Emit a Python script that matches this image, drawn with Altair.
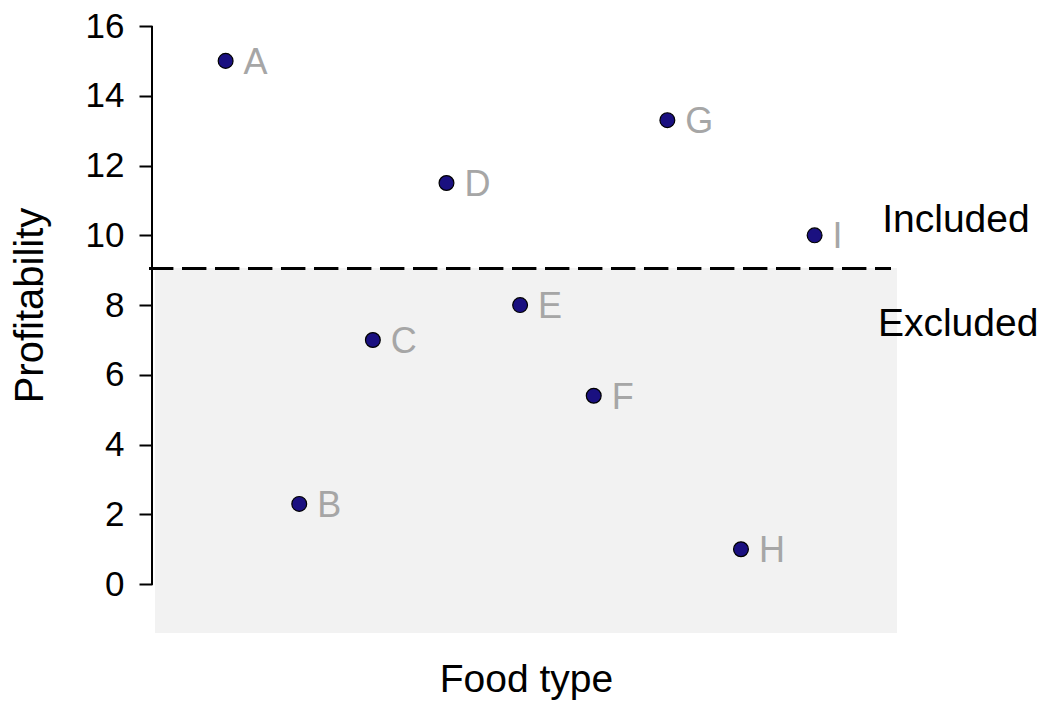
import altair as alt
import pandas as pd

# Data
foods = ["A", "B", "C", "D", "E", "F", "G", "H", "I"]
food_pos = [1, 2, 3, 4, 5, 6, 7, 8, 9]
profit = [15.0, 2.3, 7.0, 11.5, 8.0, 5.4, 13.3, 1.0, 10.0]
threshold = [9.05]
region_labels = ["Included", "Excluded"]
region_y = [10.45, 7.45]
region_x = [10.92, 10.95]
y_ticks = [0, 2, 4, 6, 8, 10, 12, 14, 16]

FONT = "Liberation Sans"
X_DOM = [0, 10.16]
Y_DOM = [-1.4, 16]

df = pd.DataFrame({"food": foods, "pos": food_pos, "profit": profit})
reg = pd.DataFrame({"label": region_labels, "y": region_y, "x": region_x})

xscale = alt.Scale(domain=X_DOM, nice=False, zero=False)
yscale = alt.Scale(domain=Y_DOM, nice=False, zero=False)

base = alt.Chart(df)

shade = base.mark_rect(color="#f2f2f2").encode(
    x=alt.datum(0.04, type="quantitative", scale=xscale),
    x2=alt.datum(10.12),
    y=alt.datum(Y_DOM[0], type="quantitative", scale=yscale),
    y2=alt.datum(threshold[0]),
)

dash = base.mark_rule(color="black", strokeWidth=3, strokeDash=[24, 9]).encode(
    x=alt.datum(-0.04, type="quantitative"),
    x2=alt.datum(10.03),
    y=alt.datum(threshold[0], type="quantitative"),
)

axis_line = base.mark_rule(color="black", strokeWidth=2).encode(
    x=alt.datum(0, type="quantitative"),
    y=alt.datum(0, type="quantitative"),
    y2=alt.datum(16),
)

points = base.mark_point(
    filled=True, shape="circle", size=220, fill="#1a1080", stroke="black",
    strokeWidth=1.2, opacity=1
).encode(
    x=alt.X("pos:Q", scale=xscale,
            axis=alt.Axis(labels=False, ticks=False, domain=False, grid=False,
                          title="Food type", titleFont=FONT, titleFontSize=39,
                          titleFontWeight="normal", titleColor="black",
                          titlePadding=27)),
    y=alt.Y("profit:Q", scale=yscale,
            axis=alt.Axis(values=y_ticks, domain=False, grid=False,
                          tickSize=13, tickWidth=2, tickColor="black",
                          labelFont=FONT, labelFontSize=35, labelColor="black",
                          labelPadding=15,
                          title="Profitability", titleFont=FONT, titleFontSize=40,
                          titleFontWeight="normal", titleColor="black",
                          titleAngle=270, titleX=-122, titleY=279,
                          titleBaseline="middle", titleAlign="center")),
)

labels = base.mark_text(
    align="left", baseline="middle", dx=18, dy=2, font=FONT, fontSize=36,
    color="#a6a6a6"
).encode(x="pos:Q", y="profit:Q", text="food:N")

region_text = alt.Chart(reg).mark_text(
    align="center", baseline="middle", font=FONT, fontSize=39, color="black"
).encode(x="x:Q", y="y:Q", text="label:N")

chart = alt.layer(shade, dash, axis_line, points, labels, region_text).properties(
    width=748, height=607,
    autosize="none",
    padding={"left": 144, "top": 18, "right": 142, "bottom": 71},
).configure_view(stroke=None)

chart.save("out.html", embed_options={"renderer": "svg", "actions": False})
